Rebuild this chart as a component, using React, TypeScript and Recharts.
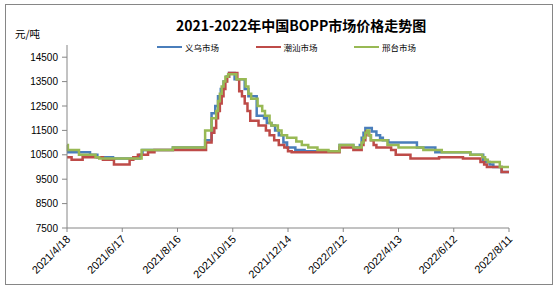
import { LineChart, Line, XAxis, YAxis } from "recharts";

// x values are days counted from 2021/4/18, one axis label every 60 days
const DATE_LABELS = [
  "2021/4/18",
  "2021/6/17",
  "2021/8/16",
  "2021/10/15",
  "2021/12/14",
  "2022/2/12",
  "2022/4/13",
  "2022/6/12",
  "2022/8/11",
];
const LABEL_STEP = 60;

const PRICE_TICKS = [7500, 8500, 9500, 10500, 11500, 12500, 13500, 14500];

// [day, price] at each price change
const yiwu: [number, number][] = [
  [0, 10600], [25, 10500], [33, 10400], [50, 10350], [79, 10500], [82, 10700],
  [115, 10800], [150, 11100], [157, 12200], [161, 12500], [164, 12900],
  [167, 13200], [170, 13500], [173, 13700], [176, 13850], [182, 13600],
  [193, 13200], [197, 12900], [206, 12100], [214, 12000], [217, 11800],
  [222, 11700], [226, 11500], [230, 11300], [235, 11000], [239, 10800],
  [248, 10700], [258, 10650], [296, 10900], [311, 10800], [318, 10900],
  [320, 11200], [322, 11400], [324, 11600], [331, 11450], [336, 11300],
  [340, 11200], [343, 11100], [349, 11000], [380, 10800], [400, 10600],
  [438, 10500], [452, 10300], [455, 10200], [459, 10100], [463, 10000],
  [472, 9800], [480, 9800],
];

const chaoshan: [number, number][] = [
  [0, 10400], [5, 10300], [17, 10400], [39, 10300], [51, 10100], [68, 10300],
  [72, 10400], [77, 10500], [88, 10600], [95, 10700], [151, 11000],
  [157, 11400], [160, 11600], [162, 12000], [164, 12300], [166, 12600],
  [168, 12900], [170, 13200], [172, 13500], [174, 13700], [176, 13850],
  [185, 13600], [187, 13100], [190, 12900], [193, 12600], [196, 12300],
  [199, 11900], [208, 11700], [216, 11500], [220, 11300], [225, 11100],
  [230, 10900], [236, 10800], [240, 10650], [244, 10600], [296, 10800],
  [311, 10700], [318, 10700], [320, 10900], [322, 11100], [324, 11300],
  [325, 11450], [328, 11300], [330, 11100], [333, 10900], [336, 10800],
  [352, 10700], [357, 10500], [373, 10350], [404, 10400], [430, 10350],
  [449, 10200], [453, 10100], [456, 10000], [472, 9800], [480, 9800],
];

const xingtai: [number, number][] = [
  [0, 10900], [1, 10700], [13, 10500], [31, 10400], [35, 10350], [81, 10700],
  [115, 10800], [150, 11500], [157, 12000], [162, 12300], [164, 12700],
  [166, 13000], [168, 13300], [170, 13500], [172, 13700], [175, 13800],
  [184, 13600], [190, 13600], [194, 13300], [197, 13000], [200, 12800],
  [207, 12500], [212, 12300], [215, 12100], [220, 11800], [222, 11700],
  [229, 11500], [233, 11300], [239, 11200], [249, 11050], [255, 10900],
  [262, 10800], [272, 10700], [284, 10650], [296, 10900], [311, 10800],
  [318, 10800], [320, 11000], [322, 11200], [324, 11400], [326, 11500],
  [328, 11300], [330, 11100], [348, 10900], [360, 10800], [387, 10700],
  [407, 10600], [438, 10500], [451, 10400], [454, 10300], [457, 10200],
  [470, 10000], [480, 10000],
];

const SERIES = [
  { name: "义乌市场", points: yiwu, color: "#4A7EBB" },
  { name: "潮汕市场", points: chaoshan, color: "#BE4B48" },
  { name: "邢台市场", points: xingtai, color: "#98B954" },
];

const CJK = '"Noto Sans CJK SC", "Noto Sans", sans-serif';
const LATIN = '"Liberation Sans", Arial, sans-serif';
const AXIS = "#868686";

function DateTick({ x, y, payload }: any) {
  const label = DATE_LABELS[Math.round(payload.value / LABEL_STEP)];
  const px = x + 4;
  const py = y + 6;
  return (
    <text
      x={px}
      y={py}
      transform={`rotate(-45 ${px} ${py})`}
      textAnchor="end"
      fontSize={11}
      fontFamily={LATIN}
      fill="#000"
    >
      {label}
    </text>
  );
}

export default function App() {
  const xTicks = DATE_LABELS.map((_, i) => i * LABEL_STEP);

  return (
    <div
      style={{
        position: "absolute",
        left: 0,
        top: 0,
        width: 558,
        height: 293,
        background: "#fff",
      }}
    >
      <div
        style={{
          position: "absolute",
          left: 5,
          top: 4,
          width: 548,
          height: 281,
          border: `1px solid ${AXIS}`,
          boxSizing: "border-box",
        }}
      />
      <div
        style={{
          position: "absolute",
          left: 176,
          top: 16,
          fontFamily: CJK,
          fontWeight: 700,
          fontSize: 14,
          lineHeight: "18px",
          whiteSpace: "nowrap",
          color: "#000",
        }}
      >
        2021-2022年中国BOPP市场价格走势图
      </div>
      <div
        style={{
          position: "absolute",
          left: 15,
          top: 27,
          fontFamily: CJK,
          fontSize: 10.5,
          lineHeight: "14px",
          whiteSpace: "nowrap",
        }}
      >
        元/吨
      </div>
      {SERIES.map((s, i) => (
        <div
          key={s.name}
          style={{
            position: "absolute",
            left: 157 + i * 98.5,
            top: 40,
            height: 14,
            display: "flex",
            alignItems: "center",
            fontFamily: CJK,
            fontSize: 8.5,
            whiteSpace: "nowrap",
          }}
        >
          <span
            style={{
              display: "inline-block",
              width: 25,
              height: 2.5,
              background: s.color,
              marginRight: 3,
            }}
          />
          {s.name}
        </div>
      ))}
      <div style={{ position: "absolute", left: 0, top: 0 }}>
        <LineChart
          width={558}
          height={293}
          margin={{ top: 45, right: 49, bottom: 10, left: 0 }}
        >
          <XAxis
            dataKey="day"
            type="number"
            domain={[0, 480]}
            ticks={xTicks}
            interval={0}
            height={55}
            stroke={AXIS}
            tickSize={4}
            tick={<DateTick />}
            allowDuplicatedCategory={false}
          />
          <YAxis
            type="number"
            domain={[7500, 15000]}
            ticks={PRICE_TICKS}
            interval={0}
            width={67}
            stroke={AXIS}
            tickSize={5}
            tickMargin={4}
            tick={{ fontSize: 10, fontFamily: LATIN, fill: "#000" }}
          />
          {SERIES.map((s) => (
            <Line
              key={s.name}
              data={s.points.map(([day, price]) => ({ day, price }))}
              dataKey="price"
              name={s.name}
              type="stepAfter"
              stroke={s.color}
              strokeWidth={2.5}
              dot={false}
              isAnimationActive={false}
            />
          ))}
        </LineChart>
      </div>
    </div>
  );
}
